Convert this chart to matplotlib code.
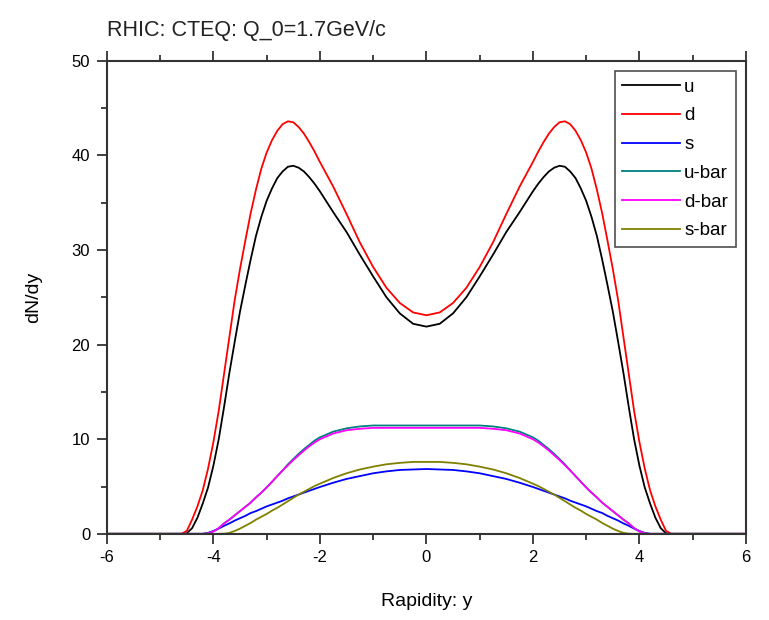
import matplotlib
matplotlib.use("Agg")
import matplotlib.pyplot as plt
from matplotlib.ticker import MultipleLocator

plt.rcParams['font.family'] = ['Liberation Sans', 'DejaVu Sans']
plt.rcParams['axes.unicode_minus'] = False

# rapidity grid (finer where the curves bend) and dN/dy
rapidity = [-6.0, -5.5, -5.0, -4.8, -4.7, -4.6, -4.5, -4.4, -4.3, -4.2,
            -4.1, -4.0, -3.9, -3.8, -3.7, -3.6, -3.5, -3.4, -3.3, -3.2,
            -3.1, -3.0, -2.9, -2.8, -2.7, -2.6, -2.5, -2.4, -2.3, -2.2,
            -2.1, -2.0, -1.75, -1.5, -1.25, -1.0, -0.75, -0.5, -0.25,
            0.0,
            0.25, 0.5, 0.75, 1.0, 1.25, 1.5, 1.75, 2.0, 2.1,
            2.2, 2.3, 2.4, 2.5, 2.6, 2.7, 2.8, 2.9, 3.0, 3.1,
            3.2, 3.3, 3.4, 3.5, 3.6, 3.7, 3.8, 3.9, 4.0, 4.1,
            4.2, 4.3, 4.4, 4.5, 4.6, 4.7, 4.8, 5.0, 5.5, 6.0]

u = [0, 0, 0, 0, 0, 0, 0.05, 0.6, 1.7, 3.2,
     4.9, 7.2, 10.0, 13.4, 17.0, 20.3, 23.5, 26.3, 29.0, 31.5,
     33.5, 35.2, 36.5, 37.6, 38.3, 38.8, 38.9, 38.7, 38.3, 37.7,
     37.0, 36.2, 34.0, 31.9, 29.5, 27.2, 25.0, 23.3, 22.2,
     21.9,
     22.2, 23.3, 25.0, 27.2, 29.5, 31.9, 34.0, 36.2, 37.0,
     37.7, 38.3, 38.7, 38.9, 38.8, 38.3, 37.6, 36.5, 35.2, 33.5,
     31.5, 29.0, 26.3, 23.5, 20.3, 17.0, 13.4, 10.0, 7.2, 4.9,
     3.2, 1.7, 0.6, 0.05, 0, 0, 0, 0, 0, 0]

d = [0, 0, 0, 0, 0, 0, 0.3, 1.5, 2.9, 4.6,
     6.9, 9.7, 13.0, 16.9, 20.8, 24.7, 28.0, 31.0, 33.9, 36.4,
     38.6, 40.3, 41.6, 42.6, 43.3, 43.6, 43.5, 43.0, 42.3, 41.4,
     40.4, 39.3, 36.7, 33.8, 30.8, 28.2, 26.0, 24.4, 23.4,
     23.1,
     23.4, 24.4, 26.0, 28.2, 30.8, 33.8, 36.7, 39.3, 40.4,
     41.4, 42.3, 43.0, 43.5, 43.6, 43.3, 42.6, 41.6, 40.3, 38.6,
     36.4, 33.9, 31.0, 28.0, 24.7, 20.8, 16.9, 13.0, 9.7, 6.9,
     4.6, 2.9, 1.5, 0.3, 0, 0, 0, 0, 0, 0]

s = [0, 0, 0, 0, 0, 0, 0, 0, 0, 0,
     0.1, 0.3, 0.55, 0.85, 1.1, 1.4, 1.65, 1.9, 2.2, 2.4,
     2.65, 2.9, 3.1, 3.3, 3.5, 3.75, 3.95, 4.15, 4.35, 4.55,
     4.75, 4.95, 5.4, 5.8, 6.1, 6.4, 6.6, 6.75, 6.8,
     6.85,
     6.8, 6.75, 6.6, 6.4, 6.1, 5.8, 5.4, 4.95, 4.75,
     4.55, 4.35, 4.15, 3.95, 3.75, 3.5, 3.3, 3.1, 2.9, 2.65,
     2.4, 2.2, 1.9, 1.65, 1.4, 1.1, 0.85, 0.55, 0.3, 0.1,
     0, 0, 0, 0, 0, 0, 0, 0, 0, 0]

ubar = [0, 0, 0, 0, 0, 0, 0, 0, 0, 0,
        0.05, 0.25, 0.6, 1.1, 1.5, 1.95, 2.4, 2.85, 3.3, 3.85,
        4.35, 4.9, 5.5, 6.1, 6.7, 7.35, 7.9, 8.45, 8.95, 9.4,
        9.85, 10.2, 10.8, 11.15, 11.35, 11.45, 11.45, 11.45, 11.45,
        11.45,
        11.45, 11.45, 11.45, 11.45, 11.35, 11.15, 10.8, 10.2, 9.85,
        9.4, 8.95, 8.45, 7.9, 7.35, 6.7, 6.1, 5.5, 4.9, 4.35,
        3.85, 3.3, 2.85, 2.4, 1.95, 1.5, 1.1, 0.6, 0.25, 0.05,
        0, 0, 0, 0, 0, 0, 0, 0, 0, 0]

dbar = [0, 0, 0, 0, 0, 0, 0, 0, 0, 0,
        0.05, 0.25, 0.6, 1.1, 1.5, 1.95, 2.4, 2.85, 3.3, 3.85,
        4.35, 4.9, 5.5, 6.1, 6.7, 7.25, 7.8, 8.3, 8.8, 9.25,
        9.65, 10.0, 10.6, 10.95, 11.1, 11.2, 11.2, 11.2, 11.2,
        11.2,
        11.2, 11.2, 11.2, 11.2, 11.1, 10.95, 10.6, 10.0, 9.65,
        9.25, 8.8, 8.3, 7.8, 7.25, 6.7, 6.1, 5.5, 4.9, 4.35,
        3.85, 3.3, 2.85, 2.4, 1.95, 1.5, 1.1, 0.6, 0.25, 0.05,
        0, 0, 0, 0, 0, 0, 0, 0, 0, 0]

sbar = [0, 0, 0, 0, 0, 0, 0, 0, 0, 0,
        0, 0, 0, 0.02, 0.1, 0.3, 0.55, 0.85, 1.15, 1.5,
        1.8, 2.1, 2.45, 2.75, 3.1, 3.45, 3.8, 4.15, 4.45, 4.75,
        5.05, 5.3, 5.9, 6.4, 6.8, 7.1, 7.35, 7.5, 7.6,
        7.6,
        7.6, 7.5, 7.35, 7.1, 6.8, 6.4, 5.9, 5.3, 5.05,
        4.75, 4.45, 4.15, 3.8, 3.45, 3.1, 2.75, 2.45, 2.1, 1.8,
        1.5, 1.15, 0.85, 0.55, 0.3, 0.1, 0.02, 0, 0, 0,
        0, 0, 0, 0, 0, 0, 0, 0, 0, 0]

series = [('u', u, 'black'), ('d', d, 'red'), ('s', s, 'blue'),
          ('u-bar', ubar, '#008080'), ('d-bar', dbar, 'magenta'),
          ('s-bar', sbar, '#808000')]

fig = plt.figure(figsize=(7.69, 6.2), dpi=100)
ax = fig.add_axes([0.139, 0.139, 0.831, 0.763])

for name, vals, col in series:
    ax.plot(rapidity, vals, color=col, lw=1.3, label=name)

ax.set_xlim(-6, 6)
ax.set_ylim(0, 50)
ax.xaxis.set_major_locator(MultipleLocator(2))
ax.xaxis.set_minor_locator(MultipleLocator(1))
ax.yaxis.set_major_locator(MultipleLocator(10))
ax.yaxis.set_minor_locator(MultipleLocator(5))
ax.tick_params(which='both', direction='out', top=True, right=False,
               color='#333333', width=1.3, labelsize=12, pad=5)
ax.tick_params(which='major', length=7)
ax.tick_params(which='minor', length=4)
for sp in ax.spines.values():
    sp.set_linewidth(1.5)
    sp.set_color('#333333')

ax.set_xlabel('Rapidity: y', fontsize=14, labelpad=20)
ax.set_ylabel('dN/dy', fontsize=14, labelpad=21)
fig.text(0.139, 0.951, 'RHIC: CTEQ: Q_0=1.7GeV/c', fontsize=15.5,
         ha='left', va='center', color='#222222')

leg = ax.legend(loc='upper right', fontsize=13.5, frameon=True, fancybox=False,
                edgecolor='#222222', handlelength=3.1, handletextpad=0.2,
                labelspacing=0.62, borderpad=0.4, borderaxespad=0.55)
leg.get_frame().set_linewidth(1.2)

fig.savefig('out.png', dpi=100)
